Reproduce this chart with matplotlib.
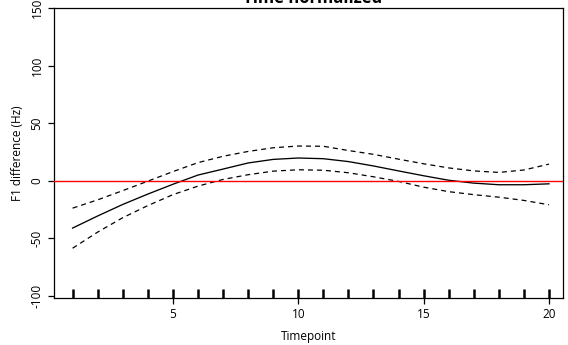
import numpy as np
import matplotlib
matplotlib.use('Agg')
import matplotlib.pyplot as plt

plt.rcParams['font.family'] = ['Open Sans', 'DejaVu Sans']

# Difference curve, one value per timepoint
timepoints = np.arange(1, 21)
fit = [-41, -30.5, -20.5, -11.5, -3, 5, 10.2, 15.5, 18.6, 19.8,
       19.2, 16.7, 12.9, 8.6, 4.4, 0.5, -2, -3.4, -3.4, -2.6]
upper = [-23.7, -16.5, -8.5, -0.3, 8, 15.8, 21.3, 25.5, 28.7, 30.2,
         30, 26.3, 23, 18.8, 14.8, 11.2, 8.6, 7.3, 9.4, 14.5]
lower = [-58.5, -44.5, -32, -21.5, -12, -4.6, 1.2, 5.3, 8.4, 9.6,
         9.2, 7, 3.5, -0.5, -5.5, -9.4, -12, -14.2, -17, -20.8]

xticks = [5, 10, 15, 20]
yticks = [-100, -50, 0, 50, 100, 150]

fig = plt.figure(figsize=(5.68, 3.45), dpi=100)
ax = fig.add_axes([54 / 568, 1 - 298 / 345, (563.3 - 54) / 568, 290 / 345])

ax.plot(timepoints, fit, color='black', lw=0.95)
ax.plot(timepoints, upper, color='black', lw=0.9, dashes=(4, 3.2))
ax.plot(timepoints, lower, color='black', lw=0.9, dashes=(4, 3.2))
ax.axhline(0, color='#ff0000', lw=1.0, zorder=3)

ylo = -101.7
ax.vlines(timepoints, ylo, ylo + 7.8, color='black', lw=1.8)

ax.set_xlim(0.258, 20.57)
ax.set_ylim(ylo, 150)
ax.set_xticks(xticks)
ax.set_yticks(yticks)
ax.set_yticklabels([str(v) for v in yticks], rotation=90, va='center')
ax.tick_params(axis='both', direction='out', length=4.5, width=0.9,
               labelsize=8.5, color='black')
ax.tick_params(axis='x', pad=3)
ax.tick_params(axis='y', pad=3)
for s in ax.spines.values():
    s.set_linewidth(0.9)

ax.set_xlabel('Timepoint', fontsize=8.5, labelpad=6)
ax.set_ylabel('F1 difference (Hz)', fontsize=8.5, labelpad=5)

fig.text(313 / 568, 1 - 3 / 345, 'Time normalized', ha='center',
         va='baseline', fontsize=12, fontweight='bold')

fig.savefig('out.png', dpi=100)
